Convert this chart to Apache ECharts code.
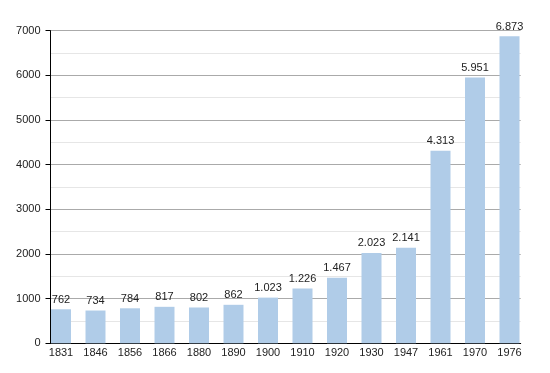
<!DOCTYPE html>
<html>
<head>
<meta charset="utf-8">
<script src="https://cdn.jsdelivr.net/npm/echarts@6/dist/echarts.min.js"></script>
<style>
html,body{margin:0;padding:0;background:#fff;}
#chart{width:550px;height:373px;}
</style>
</head>
<body>
<div id="chart"></div>
<script>
var years = ['1831','1846','1856','1866','1880','1890','1900','1910','1920','1930','1947','1961','1970','1976'];
var population = [762, 734, 784, 817, 802, 862, 1023, 1226, 1467, 2023, 2141, 4313, 5951, 6873];
var yTicks = [0, 1000, 2000, 3000, 4000, 5000, 6000, 7000];

function fmt(v) {
  var s = String(v);
  return s.replace(/\B(?=(\d{3})+(?!\d))/g, '.');
}

var FONT = 'Liberation Sans, Arial, sans-serif';
var chart = echarts.init(document.getElementById('chart'), null, {renderer: 'canvas'});
chart.setOption({
  animation: false,
  backgroundColor: '#fff',
  textStyle: {fontFamily: FONT},
  grid: [
    {left: 50.5, right: 29.3, top: 30.7, bottom: 29.7, containLabel: false},
    {left: 43.75, right: 23.25, top: 30.7, bottom: 29.7, containLabel: false}
  ],
  xAxis: [
    {
      gridIndex: 0, type: 'category', data: years,
      axisLine: {show: true, lineStyle: {color: '#000', width: 1}},
      axisTick: {show: false}, axisLabel: {show: false}, splitLine: {show: false}
    },
    {
      gridIndex: 1, type: 'category', data: years,
      axisLine: {show: false}, axisTick: {show: false},
      axisLabel: {show: true, color: '#222', fontSize: 11, fontFamily: FONT, margin: 4, interval: 0}
    }
  ],
  yAxis: [
    {
      gridIndex: 0, type: 'value', min: yTicks[0], max: yTicks[yTicks.length - 1], interval: 1000,
      axisLine: {show: true, lineStyle: {color: '#000', width: 1}},
      axisTick: {show: true, length: 5, lineStyle: {color: '#000'}},
      axisLabel: {color: '#222', fontSize: 11, fontFamily: FONT, margin: 10,
        formatter: function (v) { return String(v); }},
      splitLine: {show: true, lineStyle: {color: '#aaaaaa', width: 1}},
      minorTick: {show: false, splitNumber: 2},
      minorSplitLine: {show: true, lineStyle: {color: '#e6e6e6', width: 1}}
    },
    {
      gridIndex: 1, type: 'value', min: yTicks[0], max: yTicks[yTicks.length - 1], interval: 1000,
      show: false, splitLine: {show: false}
    }
  ],
  series: [{
    type: 'bar',
    xAxisIndex: 1, yAxisIndex: 1,
    data: population,
    barWidth: 20,
    itemStyle: {color: '#b0cce8'},
    label: {
      show: true, position: 'top', distance: 4,
      color: '#222', fontSize: 11, fontFamily: FONT,
      formatter: function (p) { return fmt(p.value); }
    }
  }]
});
</script>
</body>
</html>
